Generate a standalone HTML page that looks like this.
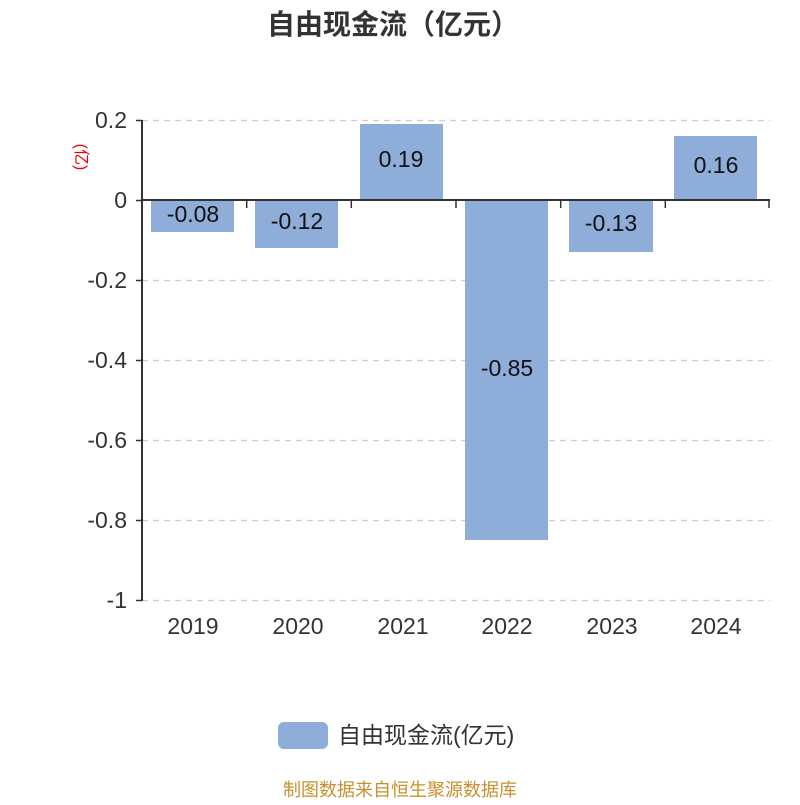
<!DOCTYPE html>
<html><head><meta charset="utf-8"><style>
body{margin:0;background:#fff;}
svg text{font-family:"Liberation Sans","Noto Sans CJK SC",sans-serif;}
</style></head><body>
<svg width="800" height="800" viewBox="0 0 800 800" xmlns="http://www.w3.org/2000/svg">
<rect width="800" height="800" fill="#fff"/>
<text x="393" y="34" text-anchor="middle" font-size="28" font-weight="bold" fill="#333">自由现金流（亿元）</text>
<g stroke="#ccc" stroke-width="1.3" stroke-dasharray="6,5">
<line x1="142" y1="120.5" x2="770" y2="120.5"/>
<line x1="142" y1="280.5" x2="770" y2="280.5"/>
<line x1="142" y1="360.5" x2="770" y2="360.5"/>
<line x1="142" y1="440.5" x2="770" y2="440.5"/>
<line x1="142" y1="520.5" x2="770" y2="520.5"/>
<line x1="142" y1="600.5" x2="770" y2="600.5"/>
</g>
<g fill="#8eadd9">
<rect x="151" y="200" width="83" height="32"/>
<rect x="255" y="200" width="83" height="48"/>
<rect x="360" y="124" width="83" height="76"/>
<rect x="465" y="200" width="83" height="340"/>
<rect x="569" y="200" width="84" height="52"/>
<rect x="674" y="136" width="83" height="64"/>
</g>
<g stroke="#333" stroke-width="2">
<line x1="142" y1="120" x2="142" y2="601"/>
<line x1="142" y1="200" x2="770" y2="200"/>
</g>
<g stroke="#333" stroke-width="1.5">
<line x1="136" y1="120.5" x2="142" y2="120.5"/>
<line x1="136" y1="200.5" x2="142" y2="200.5"/>
<line x1="136" y1="280.5" x2="142" y2="280.5"/>
<line x1="136" y1="360.5" x2="142" y2="360.5"/>
<line x1="136" y1="440.5" x2="142" y2="440.5"/>
<line x1="136" y1="520.5" x2="142" y2="520.5"/>
<line x1="136" y1="600.5" x2="142" y2="600.5"/>
<line x1="246.7" y1="200" x2="246.7" y2="208"/>
<line x1="351.3" y1="200" x2="351.3" y2="208"/>
<line x1="456" y1="200" x2="456" y2="208"/>
<line x1="560.7" y1="200" x2="560.7" y2="208"/>
<line x1="665.3" y1="200" x2="665.3" y2="208"/>
<line x1="769" y1="200" x2="769" y2="208"/>
</g>
<g font-size="23" fill="#333" text-anchor="end">
<text x="127" y="128">0.2</text>
<text x="127" y="208">0</text>
<text x="127" y="288">-0.2</text>
<text x="127" y="368">-0.4</text>
<text x="127" y="448">-0.6</text>
<text x="127" y="528">-0.8</text>
<text x="127" y="608">-1</text>
</g>
<text transform="translate(76,157) rotate(90)" text-anchor="middle" font-size="16" fill="#e00">(亿)</text>
<g font-size="23" fill="#333" text-anchor="middle">
<text x="193" y="634">2019</text>
<text x="298" y="634">2020</text>
<text x="403" y="634">2021</text>
<text x="507" y="634">2022</text>
<text x="612" y="634">2023</text>
<text x="716" y="634">2024</text>
</g>
<g font-size="23" fill="#111" text-anchor="middle">
<text x="193" y="222">-0.08</text>
<text x="297" y="229">-0.12</text>
<text x="401" y="167">0.19</text>
<text x="507" y="376">-0.85</text>
<text x="611" y="231">-0.13</text>
<text x="716" y="173">0.16</text>
</g>
<rect x="278" y="722" width="50" height="27" rx="6" fill="#8eadd9"/>
<text x="338" y="743" font-size="23" fill="#333">自由现金流(亿元)</text>
<text x="400" y="796" text-anchor="middle" font-size="18" fill="#c8902a">制图数据来自恒生聚源数据库</text>
</svg>
</body></html>
